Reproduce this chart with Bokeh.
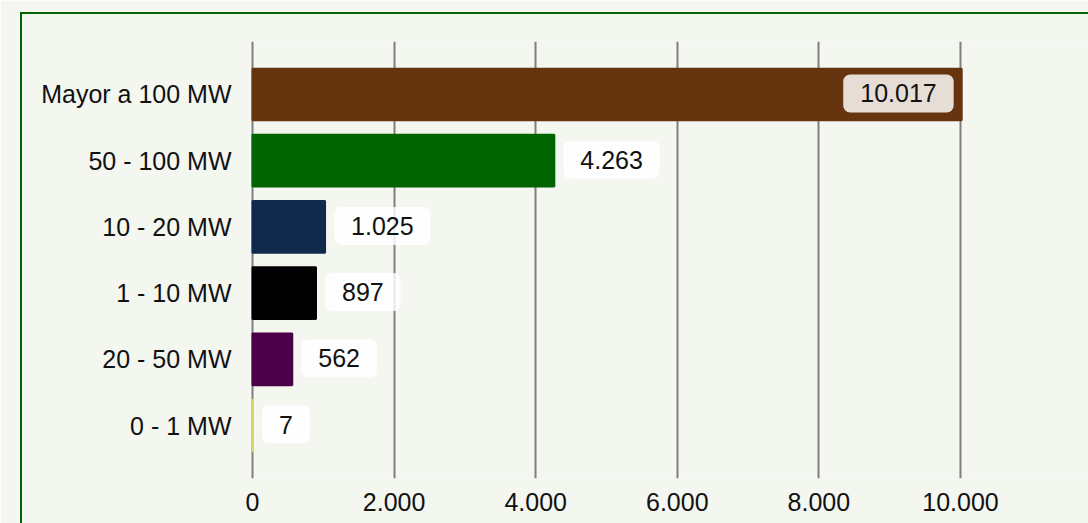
from bokeh.plotting import figure
from bokeh.models import ColumnDataSource, FactorRange, Range1d, FixedTicker, InlineStyleSheet
from bokeh.core.properties import value
from bokeh.embed import file_html
from bokeh.resources import INLINE

# ---- data ----
categories = ["Mayor a 100 MW", "50 - 100 MW", "10 - 20 MW", "1 - 10 MW", "20 - 50 MW", "0 - 1 MW"]
values = [10017, 4263, 1025, 897, 562, 7]
colors = ["#66350f", "#006400", "#0f2a4a", "#000000", "#4a0049", "#d9d86a"]
x_ticks = [0, 2000, 4000, 6000, 8000, 10000]
x_tick_labels = ["0", "2.000", "4.000", "6.000", "8.000", "10.000"]

BG = "#f4f6f0"
FONT = "Liberation Sans"
TXT = "#111111"

labels = [f"{v:,}".replace(",", ".") for v in values]
vmax = max(values)
inside = [v > 0.8 * vmax for v in values]

src_all = ColumnDataSource(dict(cat=categories, val=values, color=colors, label=labels))
src_out = ColumnDataSource(dict(
    cat=[c for c, i in zip(categories, inside) if not i],
    val=[v for v, i in zip(values, inside) if not i],
    label=[l for l, i in zip(labels, inside) if not i]))
src_in = ColumnDataSource(dict(
    cat=[c for c, i in zip(categories, inside) if i],
    val=[v for v, i in zip(values, inside) if i],
    label=[l for l, i in zip(labels, inside) if i]))

p = figure(
    width=1088, height=523,
    y_range=FactorRange(factors=categories[::-1], range_padding=0.1),
    x_range=Range1d(-28, 11808),
    output_backend="svg", toolbar_location=None,
    min_border_left=250, min_border_right=0, min_border_top=41, min_border_bottom=45,
)
p.background_fill_color = BG
p.border_fill_color = BG
p.outline_line_color = None

# green frame around the chart (decorative border)
p.stylesheets = [InlineStyleSheet(css=(
    ":host::after { content: ''; position: absolute; left: 20px; top: 12px; "
    "width: 2000px; height: 2000px; border: 2px solid #006400; "
    "box-sizing: border-box; pointer-events: none; }"))]

p.hbar(y="cat", right="val", left=0, height=0.78, source=src_all,
       fill_color="color", line_color="color", line_width=2)

common = dict(text_font=value(FONT), text_font_size="25px", text_color=TXT,
              text_baseline="middle", background_fill_color="white",
              background_fill_alpha=0.83, border_radius=7, y_offset=-1,
              padding=dict(left=17, right=17, top=10, bottom=10))
p.text(x="val", y="cat", text="label", source=src_out, x_offset=9, text_align="left", **common)
p.text(x="val", y="cat", text="label", source=src_in, x_offset=-8, text_align="right", **common)

# axes
p.xaxis.ticker = FixedTicker(ticks=x_ticks)
p.xaxis.major_label_overrides = {t: l for t, l in zip(x_ticks, x_tick_labels)}
for ax in (p.xaxis[0], p.yaxis[0]):
    ax.axis_line_color = None
    ax.major_tick_line_color = None
    ax.minor_tick_line_color = None
    ax.major_tick_out = 0
    ax.major_tick_in = 0
    ax.major_label_text_font = FONT
    ax.major_label_text_font_size = "25px"
    ax.major_label_text_color = TXT
p.xaxis.major_label_standoff = 14
p.yaxis.major_label_standoff = 19

p.xgrid.grid_line_color = "#7f7f7f"
p.xgrid.grid_line_width = 2
p.ygrid.grid_line_color = None

html = file_html(p, INLINE)
html = html.replace("<body>", '<body style="background-color:%s;">' % BG, 1)
open("out.html", "w").write(html)
